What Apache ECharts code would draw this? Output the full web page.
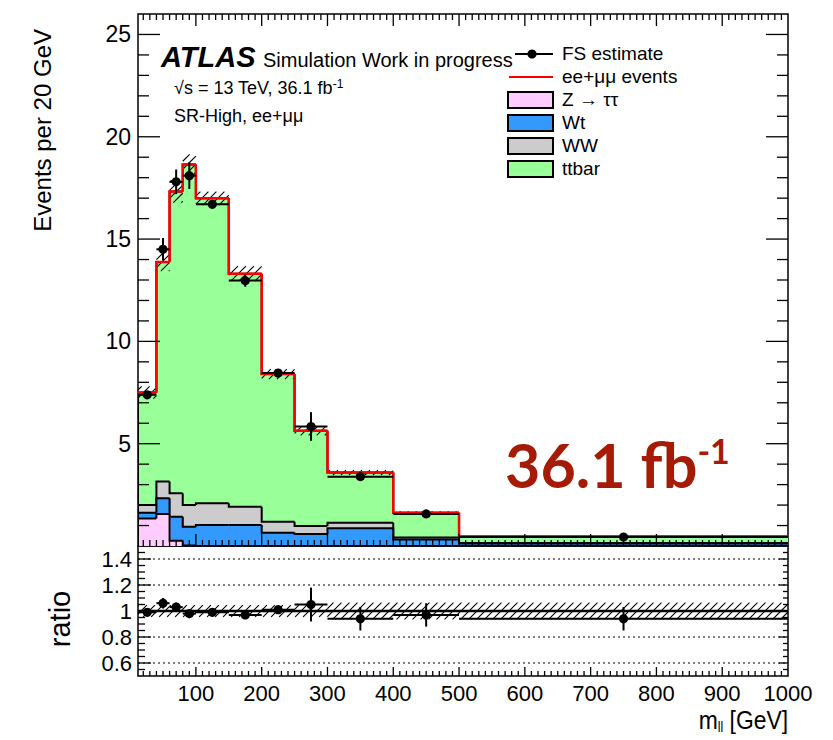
<!DOCTYPE html>
<html>
<head>
<meta charset="utf-8">
<title>m_ll SR-High</title>
<script src="https://cdn.jsdelivr.net/npm/echarts@6/dist/echarts.min.js"></script>
<style>
  html, body { margin: 0; padding: 0; background: #fff; }
  #chart { width: 833px; height: 740px; }
</style>
</head>
<body>
<div id="chart"></div>
<script>
// m_ll bin edges [GeV]
const binEdges = [12, 40, 60, 80, 100, 150, 200, 250, 300, 400, 500, 1000];

// MC backgrounds, events per 20 GeV (stacked bottom to top)
const zttValues   = [1.35, 1.57, 0.26, 0.02, 0, 0, 0, 0, 0, 0, 0];
const wtValues    = [0.28, 0.76, 1.17, 0.92, 1.03, 1.03, 0.65, 0.59, 0.87, 0.32, 0.12];
const wwValues    = [0.37, 0.82, 1.15, 1.06, 1.06, 0.89, 0.54, 0.39, 0.27, 0.10, 0.03];
const ttbarValues = [5.50, 10.73, 14.75, 16.64, 14.90, 11.39, 7.21, 4.65, 2.45, 1.21, 0.32];
// MC statistical uncertainty on the total
const mcErrValues = [0.30, 0.45, 0.55, 0.50, 0.33, 0.37, 0.24, 0.22, 0.12, 0.06, 0.03];

// flavour-symmetric data-driven estimate
const fsValues    = [7.39, 14.5, 17.8, 18.1, 16.7, 12.97, 8.45, 5.84, 3.39, 1.57, 0.44];
const fsErrValues = [0.15, 0.55, 0.60, 0.65, 0.20, 0.30, 0.15, 0.70, 0.20, 0.10, 0.05];

// ratio panel
const ratioValues    = [0.99, 1.06, 1.03, 0.98, 0.99, 0.97, 1.01, 1.05, 0.94, 0.97, 0.94];
const ratioErrValues = [0.02, 0.04, 0.035, 0.035, 0.02, 0.025, 0.02, 0.13, 0.09, 0.09, 0.09];
const ratioBandValues = [0.045, 0.045, 0.045, 0.045, 0.045, 0.045, 0.045, 0.045, 0.065, 0.065, 0.065];

// axis labels
const xLabelValues = [100, 200, 300, 400, 500, 600, 700, 800, 900, 1000];
const yMainLabels  = [5, 10, 15, 20, 25];
const ratioLabels  = [0.6, 0.8, 1, 1.2, 1.4];
const ratioGridLines = [0.6, 0.8, 1.2, 1.4];

const yMainMax = 26;
const ratioMin = 0.5, ratioMax = 1.5;
const FONT = '"Liberation Sans", Arial, Helvetica, sans-serif';

const nBins = binEdges.length - 1;
const xMin = binEdges[0], xMax = binEdges[nBins];

// cumulative stack tops
const layers = [zttValues, wtValues, wwValues, ttbarValues];
function stackTop(depth) {
  return zttValues.map((_, i) => {
    let s = 0;
    for (let k = 0; k <= depth; k++) s += layers[k][i];
    return s;
  });
}
const totalValues = stackTop(3);

// tick positions
const xTicks = [];
for (let v = 20; v < 1000; v += 10) xTicks.push({ v, major: v % 100 === 0 });
const yMainTicks = [];
for (let v = 1; v < yMainMax; v++) yMainTicks.push({ v, major: v % 5 === 0 });
const yRatioTicks = [];
for (let k = 11; k <= 29; k++) yRatioTicks.push({ v: k * 0.05, major: k % 4 === 0 });

// "/" hatching clipped to a rectangle (pixel coords)
function hatch(x0, y0, x1, y1, step) {
  const segs = [];
  const cStart = Math.ceil((x0 + y0) / step) * step;
  for (let c = cStart; c <= x1 + y1; c += step) {
    const xa = Math.max(x0, c - y1), xb = Math.min(x1, c - y0);
    if (xb > xa) {
      segs.push({ type: 'line', shape: { x1: xa, y1: c - xa, x2: xb, y2: c - xb },
        style: { stroke: '#000', lineWidth: 1.1 } });
    }
  }
  return segs;
}

function histSeries(name, tops, color) {
  return {
    type: 'custom', name, xAxisIndex: 0, yAxisIndex: 0, clip: true,
    data: tops.map((t, i) => [binEdges[i], binEdges[i + 1], t, i > 0 ? tops[i - 1] : 0]),
    encode: { x: [0, 1], y: 2 },
    renderItem(params, api) {
      const lo = api.value(0), hi = api.value(1), top = api.value(2), prev = api.value(3);
      const pLo = api.coord([lo, 0]), pHi = api.coord([hi, top]), pPrev = api.coord([lo, prev]);
      // small overlap on the right hides anti-aliasing seams between bins
      const overlap = hi < xMax ? 0.8 : 0;
      return { type: 'group', children: [
        { type: 'rect', shape: { x: pLo[0], y: pHi[1], width: pHi[0] - pLo[0] + overlap, height: pLo[1] - pHi[1] },
          style: { fill: color } },
        { type: 'polyline', shape: { points: [pPrev, [pLo[0], pHi[1]], pHi] },
          style: { stroke: '#000', lineWidth: 2, fill: null } }
      ] };
    }
  };
}

function tickSeries(xAxisIndex, yAxisIndex, yTicks, yLim, len) {
  return {
    type: 'custom', xAxisIndex, yAxisIndex, silent: true, z: 10,
    data: [[xMin, yLim[0]]],
    renderItem(params, api) {
      const cs = params.coordSys;
      const left = cs.x, right = cs.x + cs.width, top = cs.y, bottom = cs.y + cs.height;
      const ch = [];
      const st = { stroke: '#000', lineWidth: 1.3 };
      xTicks.forEach(t => {
        const px = api.coord([t.v, yLim[0]])[0];
        const l = t.major ? len.xMajor : len.xMinor;
        ch.push({ type: 'line', shape: { x1: px, y1: bottom, x2: px, y2: bottom - l }, style: st });
        if (len.xTop) {
          ch.push({ type: 'line', shape: { x1: px, y1: top, x2: px, y2: top + l }, style: st });
        }
      });
      yTicks.forEach(t => {
        const py = api.coord([xMin, t.v])[1];
        const l = t.major ? len.yMajor : len.yMinor;
        const r = t.major ? len.rMajor : len.rMinor;
        ch.push({ type: 'line', shape: { x1: left, y1: py, x2: left + l, y2: py }, style: st });
        ch.push({ type: 'line', shape: { x1: right, y1: py, x2: right - r, y2: py }, style: st });
      });
      return { type: 'group', children: ch };
    }
  };
}

const series = [];

// stacked backgrounds: highest cumulative first so lower layers sit on top
series.push(histSeries('ttbar', stackTop(3), '#99ff99'));
series.push(histSeries('WW', stackTop(2), '#cccccc'));
series.push(histSeries('Wt', stackTop(1), '#3399ff'));
series.push(histSeries('Z → ττ', stackTop(0), '#ffccff'));

// MC uncertainty band
series.push({
  type: 'custom', name: 'MC stat', xAxisIndex: 0, yAxisIndex: 0, silent: true,
  data: totalValues.map((t, i) => [binEdges[i], binEdges[i + 1], t, mcErrValues[i]]),
  renderItem(params, api) {
    const lo = api.value(0), hi = api.value(1), t = api.value(2), e = api.value(3);
    const a = api.coord([lo, t + e]), b = api.coord([hi, t - e]);
    return { type: 'group', children: hatch(a[0], a[1], b[0], b[1], 8) };
  }
});

// ee+mumu events total
series.push({
  type: 'custom', name: 'ee+μμ events', xAxisIndex: 0, yAxisIndex: 0,
  data: totalValues.map((t, i) => [binEdges[i], binEdges[i + 1], t, i > 0 ? totalValues[i - 1] : t]),
  renderItem(params, api) {
    const lo = api.value(0), hi = api.value(1), top = api.value(2), prev = api.value(3);
    const pPrev = api.coord([lo, prev]), pTop = api.coord([lo, top]), pHi = api.coord([hi, top]);
    return { type: 'polyline', shape: { points: [pPrev, pTop, pHi] },
      style: { stroke: '#ff0000', lineWidth: 2.5, fill: null } };
  }
});

function pointSeries(name, xAxisIndex, yAxisIndex, vals, errs) {
  return {
    type: 'custom', name, xAxisIndex, yAxisIndex, z: 5,
    data: vals.map((v, i) => [(binEdges[i] + binEdges[i + 1]) / 2, binEdges[i], binEdges[i + 1], v, errs[i]]),
    encode: { x: 0, y: 3 },
    renderItem(params, api) {
      const c = api.value(0), lo = api.value(1), hi = api.value(2), v = api.value(3), e = api.value(4);
      const p = api.coord([c, v]), pl = api.coord([lo, v]), ph = api.coord([hi, v]);
      const up = api.coord([c, v + e]), dn = api.coord([c, v - e]);
      const st = { stroke: '#000', lineWidth: 2 };
      return { type: 'group', children: [
        { type: 'line', shape: { x1: pl[0], y1: p[1], x2: ph[0], y2: p[1] }, style: st },
        { type: 'line', shape: { x1: p[0], y1: up[1], x2: p[0], y2: dn[1] }, style: st },
        { type: 'circle', shape: { cx: p[0], cy: p[1], r: 4.6 }, style: { fill: '#000' } }
      ] };
    }
  };
}

series.push(pointSeries('FS estimate', 0, 0, fsValues, fsErrValues));

// ratio panel: dotted reference lines
series.push({
  type: 'custom', xAxisIndex: 1, yAxisIndex: 1, silent: true,
  data: ratioGridLines.map(v => [xMin, v]),
  renderItem(params, api) {
    const a = api.coord([xMin, api.value(1)]), b = api.coord([xMax, api.value(1)]);
    return { type: 'line', shape: { x1: a[0], y1: a[1], x2: b[0], y2: b[1] },
      style: { stroke: '#000', lineWidth: 1, lineDash: [2, 3] } };
  }
});
// ratio panel: MC uncertainty band
series.push({
  type: 'custom', xAxisIndex: 1, yAxisIndex: 1, silent: true,
  data: ratioBandValues.map((h, i) => [binEdges[i], binEdges[i + 1], h]),
  renderItem(params, api) {
    const lo = api.value(0), hi = api.value(1), h = api.value(2);
    const a = api.coord([lo, 1 + h]), b = api.coord([hi, 1 - h]);
    return { type: 'group', children: hatch(a[0], a[1], b[0], b[1], 8) };
  }
});
// ratio panel: unity line
series.push({
  type: 'custom', xAxisIndex: 1, yAxisIndex: 1, silent: true,
  data: [[xMin, 1]],
  renderItem(params, api) {
    const a = api.coord([xMin, 1]), b = api.coord([xMax, 1]);
    return { type: 'line', shape: { x1: a[0], y1: a[1], x2: b[0], y2: b[1] },
      style: { stroke: '#000', lineWidth: 2.5 } };
  }
});
series.push(pointSeries('ratio', 1, 1, ratioValues, ratioErrValues));

// ticks on the inside of both frames
series.push(tickSeries(0, 0, yMainTicks, [0, yMainMax],
  { xMajor: 12, xMinor: 6, xTop: true, yMajor: 22, yMinor: 11, rMajor: 22, rMinor: 11 }));
series.push(tickSeries(1, 1, yRatioTicks, [ratioMin, ratioMax],
  { xMajor: 9, xMinor: 5, xTop: false, yMajor: 13, yMinor: 7, rMajor: 9, rMinor: 5 }));

// legend and annotations
const legendX = 508;
const legendRows = [
  { label: 'FS estimate', y: 54, kind: 'marker' },
  { label: 'ee+μμ events', y: 77, kind: 'redline' },
  { label: 'Z → ττ', y: 100, kind: 'box', color: '#ffccff' },
  { label: 'Wt', y: 123, kind: 'box', color: '#3399ff' },
  { label: 'WW', y: 146, kind: 'box', color: '#cccccc' },
  { label: 'ttbar', y: 169, kind: 'box', color: '#99ff99' }
];
const graphics = [];
legendRows.forEach(r => {
  if (r.kind === 'marker') {
    graphics.push({ type: 'line', shape: { x1: legendX + 7, y1: r.y, x2: legendX + 45, y2: r.y }, style: { stroke: '#000', lineWidth: 2 } });
    graphics.push({ type: 'circle', shape: { cx: legendX + 24, cy: r.y, r: 4.6 }, style: { fill: '#000' } });
  } else if (r.kind === 'redline') {
    graphics.push({ type: 'line', shape: { x1: legendX + 1, y1: r.y, x2: legendX + 45, y2: r.y }, style: { stroke: '#ff0000', lineWidth: 2 } });
  } else {
    graphics.push({ type: 'rect', shape: { x: legendX, y: r.y - 8, width: 45, height: 16 },
      style: { fill: r.color, stroke: '#000', lineWidth: 2 } });
  }
  graphics.push({ type: 'text', x: legendX + 54, y: r.y - 1,
    style: { text: r.label, font: '19px ' + FONT, fill: '#000', textAlign: 'left', textVerticalAlign: 'middle' } });
});

graphics.push({ type: 'text', x: 161, y: 57,
  style: { text: 'ATLAS', font: 'italic bold 29px ' + FONT, fill: '#000', textAlign: 'left', textVerticalAlign: 'middle' } });
graphics.push({ type: 'text', x: 263, y: 60,
  style: { text: 'Simulation Work in progress', font: '20px ' + FONT, fill: '#000', textAlign: 'left', textVerticalAlign: 'middle' } });
graphics.push({ type: 'text', x: 174, y: 88,
  style: { text: '{t|√s = 13 TeV, 36.1 fb}{s|-1}', textAlign: 'left', textVerticalAlign: 'middle',
    rich: { t: { font: '18px ' + FONT, fill: '#000', lineHeight: 21 },
            s: { font: '12px ' + FONT, fill: '#000', verticalAlign: 'top', lineHeight: 12 } } } });
graphics.push({ type: 'text', x: 174, y: 116,
  style: { text: 'SR-High, ee+μμ', font: '18px ' + FONT, fill: '#000', textAlign: 'left', textVerticalAlign: 'middle' } });

graphics.push({ type: 'text', x: 505, y: 464,
  style: { text: '{m|36.1 fb}{s|-1}', textAlign: 'left', textVerticalAlign: 'middle',
    rich: { m: { font: 'bold 61px Lato, "Open Sans", sans-serif', fill: '#a51b06', lineHeight: 61 },
            s: { font: 'bold 34px Lato, "Open Sans", sans-serif', fill: '#a51b06', verticalAlign: 'top', lineHeight: 34 } } } });

graphics.push({ type: 'text', x: 42, y: 29, rotation: Math.PI / 2,
  style: { text: 'Events per 20 GeV', font: '24px ' + FONT, fill: '#000', textAlign: 'right', textVerticalAlign: 'middle' } });
graphics.push({ type: 'text', x: 60, y: 619, rotation: Math.PI / 2,
  style: { text: 'ratio', font: '29px ' + FONT, fill: '#000', textAlign: 'center', textVerticalAlign: 'middle' } });
// axis title, slightly condensed horizontally about its right end
graphics.push({ type: 'text', x: 788, y: 720, scaleX: 0.88,
  style: { text: '{m|m}{s|ll}{g| [GeV]}', textAlign: 'right', textVerticalAlign: 'middle',
    rich: { m: { font: '26px ' + FONT, fill: '#000', lineHeight: 28 },
            s: { font: '14px ' + FONT, fill: '#000', verticalAlign: 'bottom', lineHeight: 14 },
            g: { font: '26px ' + FONT, fill: '#000', lineHeight: 28 } } } });

const chart = echarts.init(document.getElementById('chart'), null, { renderer: 'svg', width: 833, height: 740 });

const hiddenAxis = { axisLine: { show: false }, axisTick: { show: false }, splitLine: { show: false } };

chart.setOption({
  animation: false,
  backgroundColor: '#fff',
  grid: [
    { left: 138, top: 14, width: 650, height: 532, show: true, borderColor: '#000', borderWidth: 1.5,
      backgroundColor: 'transparent', outerBoundsMode: 'none' },
    { left: 138, top: 546, width: 650, height: 130, show: true, borderColor: '#000', borderWidth: 1.5,
      backgroundColor: 'transparent', outerBoundsMode: 'none' }
  ],
  xAxis: [
    Object.assign({ gridIndex: 0, type: 'value', min: xMin, max: xMax, axisLabel: { show: false } }, hiddenAxis),
    Object.assign({ gridIndex: 1, type: 'value', min: xMin, max: xMax,
      axisLabel: { show: true, customValues: xLabelValues, fontSize: 22, fontFamily: FONT, color: '#000', margin: 6,
        formatter: v => (xLabelValues.indexOf(v) >= 0 ? String(v) : '') } }, hiddenAxis)
  ],
  yAxis: [
    Object.assign({ gridIndex: 0, type: 'value', min: 0, max: yMainMax,
      axisLabel: { show: true, customValues: yMainLabels, fontSize: 23, fontFamily: FONT, color: '#000', margin: 7,
        formatter: v => (yMainLabels.indexOf(v) >= 0 ? String(v) : '') } }, hiddenAxis),
    Object.assign({ gridIndex: 1, type: 'value', min: ratioMin, max: ratioMax,
      axisLabel: { show: true, customValues: ratioLabels, fontSize: 22, fontFamily: FONT, color: '#000', margin: 6,
        formatter: v => (Math.abs(v - 1) < 1e-9 ? '1' : v.toFixed(1)) } }, hiddenAxis)
  ],
  series,
  graphic: { elements: graphics.map(g => Object.assign({ z: 100 }, g)) }
});
</script>
</body>
</html>
